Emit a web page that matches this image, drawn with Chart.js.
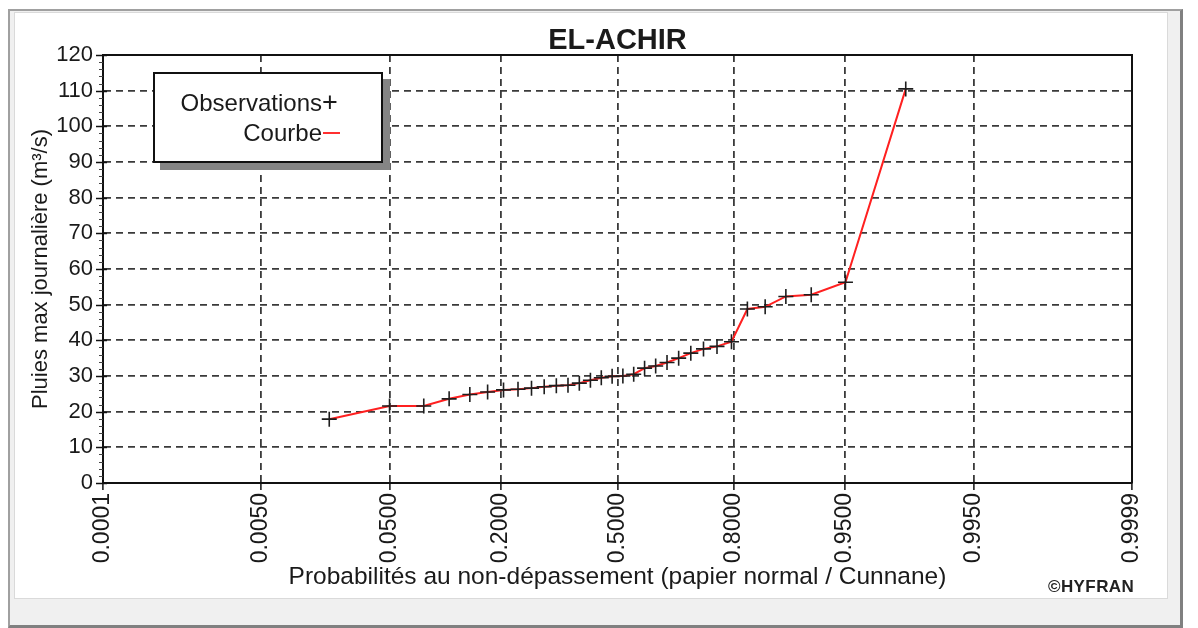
<!DOCTYPE html>
<html>
<head>
<meta charset="utf-8">
<script src="https://cdn.jsdelivr.net/npm/chart.js@4/dist/chart.umd.min.js"></script>
<style>
  body { margin: 0; background: #fff; font-family: Arial, "Liberation Sans", sans-serif; }
  #frame { position: absolute; left: 8px; top: 9px; width: 1170px; height: 614px; background: #f0f0f0;
           border-top: 2px solid #a0a0a0; border-left: 2px solid #a0a0a0; border-right: 3px solid #808080; border-bottom: 3px solid #808080; }
  #panel { position: absolute; left: 14px; top: 12px; width: 1152px; height: 585px; background: #fff; border: 1px solid #dadada; }
  #wrap { position: absolute; left: 0; top: 0; width: 1198px; height: 628px; }
  #legend { position: absolute; left: 153px; top: 72px; width: 226px; height: 87px; background: #fff;
            border: 2px solid #111; box-shadow: 7px 7px 0 #858585; color: #1a1a1a; font-size: 24px; }
  #legend .lbl { position: absolute; left: 0; width: 167px; text-align: right; line-height: 26px; }
  #legend .plus { position: absolute; left: 167px; top: 14px; font-size: 27px; line-height: 28px; }
  #legend .dash { position: absolute; left: 168px; top: 58px; width: 17px; height: 2px; background: #ff3030; }
  #copy { position: absolute; left: 1048px; top: 577px; font-size: 17px; letter-spacing: 0.4px; font-weight: bold; color: #222; }
</style>
</head>
<body>
<div id="frame"></div>
<div id="panel"></div>
<div id="wrap"><canvas id="chart" width="1198" height="628"></canvas></div>
<div id="legend">
  <div class="lbl" style="top:16px">Observations</div><div class="plus">+</div>
  <div class="lbl" style="top:46px">Courbe</div><div class="dash"></div>
</div>
<div id="copy">©HYFRAN</div>
<script>
// probability axis (normal paper)
const tickProbs = [0.0001, 0.005, 0.05, 0.2, 0.5, 0.8, 0.95, 0.995, 0.9999];
const tickLabels = ['0.0001', '0.0050', '0.0500', '0.2000', '0.5000', '0.8000', '0.9500', '0.9950', '0.9999'];

// observations: non-exceedance probability and daily max rainfall
const probs = [0.0186, 0.0497, 0.0807, 0.1118, 0.1429, 0.1739, 0.2050, 0.2360, 0.2671, 0.2981, 0.3292,
  0.3602, 0.3913, 0.4224, 0.4534, 0.4845, 0.5155, 0.5466, 0.5776, 0.6087, 0.6398, 0.6708, 0.7019,
  0.7329, 0.7640, 0.7950, 0.8261, 0.8571, 0.8882, 0.9193, 0.9503, 0.9814];
const rain = [17.9, 21.6, 21.6, 23.6, 24.8, 25.5, 26.1, 26.3, 26.6, 27.0, 27.3, 27.4, 28.0, 28.8, 29.5,
  29.9, 30.0, 30.5, 32.2, 32.8, 33.8, 35.0, 36.4, 37.6, 38.3, 39.6, 48.8, 49.4, 52.3, 52.8, 56.3, 110.5];

const yMin = 0, yMax = 120, yStep = 10, yMinor = 2;

// inverse normal CDF (Acklam)
function probit(p) {
  const a = [-39.69683028665376, 220.9460984245205, -275.9285104469687, 138.3577518672690, -30.66479806614716, 2.506628277459239];
  const b = [-54.47609879822406, 161.5858368580409, -155.6989798598866, 66.80131188771972, -13.28068155288572];
  const c = [-0.007784894002430293, -0.3223964580411365, -2.400758277161838, -2.549671490625803, 4.374664141464968, 2.938163982698783];
  const d = [0.007784695709041462, 0.3224671290700398, 2.445134137142996, 3.754408661907416];
  const pl = 0.02425;
  let q, r;
  if (p < pl) {
    q = Math.sqrt(-2 * Math.log(p));
    return (((((c[0]*q+c[1])*q+c[2])*q+c[3])*q+c[4])*q+c[5]) / ((((d[0]*q+d[1])*q+d[2])*q+d[3])*q+1);
  }
  if (p > 1 - pl) {
    q = Math.sqrt(-2 * Math.log(1 - p));
    return -(((((c[0]*q+c[1])*q+c[2])*q+c[3])*q+c[4])*q+c[5]) / ((((d[0]*q+d[1])*q+d[2])*q+d[3])*q+1);
  }
  q = p - 0.5; r = q * q;
  return (((((a[0]*r+a[1])*r+a[2])*r+a[3])*r+a[4])*r+a[5])*q / (((((b[0]*r+b[1])*r+b[2])*r+b[3])*r+b[4])*r+1);
}

const points = probs.map((p, i) => ({ x: probit(p), y: rain[i] }));
const font = 'Arial, "Liberation Sans", sans-serif';
const ink = '#1a1a1a';

// frame on top/right of plot + minor ticks on y axis
const framePlugin = {
  id: 'frame',
  afterDraw(chart) {
    const { ctx, chartArea: a, scales: { y } } = chart;
    ctx.save();
    ctx.strokeStyle = '#111';
    ctx.lineWidth = 2;
    ctx.beginPath();
    ctx.moveTo(a.left, a.top); ctx.lineTo(a.right, a.top); ctx.lineTo(a.right, a.bottom);
    ctx.stroke();
    for (let v = yMin; v <= yMax; v += yMinor) {
      const py = Math.round(y.getPixelForValue(v)) + 0.5;
      const major = v % yStep === 0;
      ctx.lineWidth = major ? 1.5 : 1;
      ctx.strokeStyle = major ? '#111' : '#444';
      ctx.beginPath();
      ctx.moveTo(a.left - (major ? 7 : 4), py);
      ctx.lineTo(a.left + (major ? 4 : 0), py);
      ctx.stroke();
    }
    ctx.restore();
  }
};

new Chart(document.getElementById('chart'), {
  type: 'line',
  data: {
    datasets: [
      {
        label: 'Observations',
        data: points,
        showLine: false,
        pointStyle: 'cross',
        pointRadius: 7.5,
        pointBorderWidth: 1.6,
        borderColor: '#1e1e1e',
        backgroundColor: '#1e1e1e'
      },
      {
        label: 'Courbe',
        data: points,
        borderColor: '#ff2020',
        borderWidth: 2,
        pointRadius: 0,
        tension: 0
      }
    ]
  },
  options: {
    responsive: false,
    animation: false,
    layout: { padding: { left: 0, top: 8, right: 66, bottom: 20 } },
    plugins: {
      legend: { display: false },
      tooltip: { enabled: false },
      title: {
        display: true,
        text: 'EL-ACHIR',
        fullSize: false,
        color: ink,
        font: { family: font, size: 29, weight: 'bold', lineHeight: 1 },
        padding: { top: 18, bottom: 0 }
      }
    },
    scales: {
      x: {
        type: 'linear',
        min: probit(tickProbs[0]),
        max: probit(tickProbs[tickProbs.length - 1]),
        afterBuildTicks: s => { s.ticks = tickProbs.map(p => ({ value: probit(p) })); },
        afterFit: s => { s.height = 125; s.paddingLeft = 0; s.paddingRight = 0; },
        grid: {
          color: c => (c.index === 0 || c.index === tickProbs.length - 1) ? 'transparent' : '#3a3a3a',
          lineWidth: 1.8,
          tickLength: 7,
          tickColor: '#111',
          tickWidth: 1.5,
          tickBorderDash: []
        },
        border: { color: '#111', width: 2, dash: [7, 5] },
        ticks: {
          autoSkip: false,
          minRotation: 90,
          maxRotation: 90,
          padding: 3,
          color: ink,
          font: { family: font, size: 23 },
          callback: (v, i) => tickLabels[i]
        },
        title: {
          display: true,
          text: 'Probabilités au non-dépassement (papier normal / Cunnane)',
          color: ink,
          font: { family: font, size: 24.5 },
          padding: { top: 0, bottom: 16 }
        }
      },
      y: {
        min: yMin,
        max: yMax,
        afterBuildTicks: s => {
          const t = [];
          for (let v = yMin; v <= yMax; v += yStep) t.push({ value: v });
          s.ticks = t;
        },
        afterFit: s => { s.width = 103; s.paddingTop = 0; s.paddingBottom = 0; },
        grid: {
          color: c => (c.tick.value === yMin || c.tick.value === yMax) ? 'transparent' : '#3a3a3a',
          lineWidth: 1.8,
          drawTicks: true,
          tickLength: 7,
          tickColor: 'transparent'
        },
        border: { color: '#111', width: 2, dash: [7, 5] },
        ticks: {
          padding: 3,
          color: ink,
          font: { family: font, size: 22 }
        },
        title: {
          display: true,
          text: 'Pluies max journalière (m³/s)',
          color: ink,
          font: { family: font, size: 22 },
          padding: { top: 28, bottom: 0 }
        }
      }
    }
  },
  plugins: [framePlugin]
});
</script>
</body>
</html>
